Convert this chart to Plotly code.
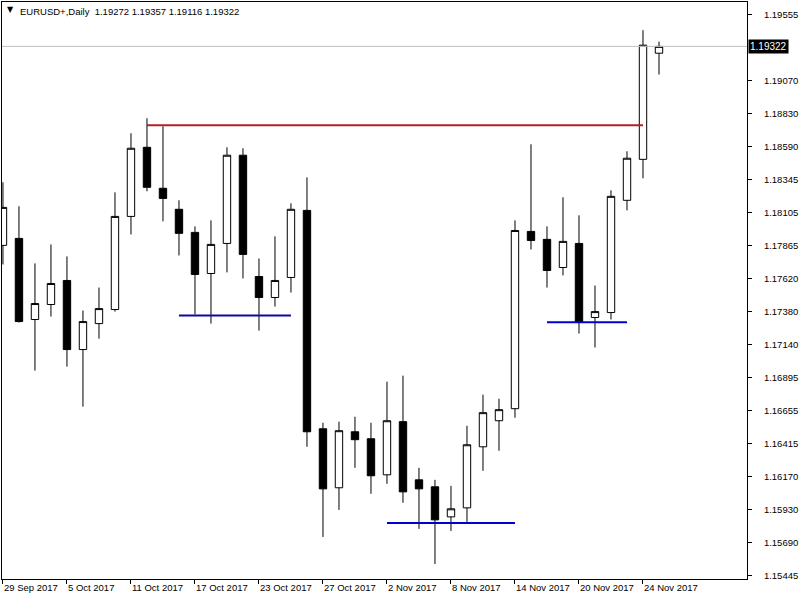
import plotly.graph_objects as go

# ---- data ----
date_labels = ["29 Sep 2017", "5 Oct 2017", "11 Oct 2017", "17 Oct 2017", "23 Oct 2017",
               "27 Oct 2017", "2 Nov 2017", "8 Nov 2017", "14 Nov 2017", "20 Nov 2017",
               "24 Nov 2017"]
label_bar_step = 4

opens = [1.17865, 1.17916, 1.17322, 1.17432, 1.17608, 1.17102, 1.17292, 1.17395, 1.18077, 1.18583,
         1.18283, 1.18129, 1.17960, 1.17659, 1.17879, 1.18525, 1.17637, 1.17483, 1.17630, 1.18121,
         1.16522, 1.16090, 1.16500, 1.16449, 1.16185, 1.16574, 1.16148, 1.16097, 1.15877, 1.15943,
         1.16390, 1.16581, 1.16669, 1.17967, 1.17909, 1.17703, 1.17879, 1.17337, 1.17373, 1.18195,
         1.18495, 1.19272]
highs = [1.18327, 1.18151, 1.17733, 1.17872, 1.17784, 1.17388, 1.17556, 1.18253, 1.18686, 1.18796,
         1.18737, 1.18195, 1.18004, 1.18048, 1.18583, 1.18576, 1.17769, 1.17931, 1.18173, 1.18363,
         1.16566, 1.16574, 1.16610, 1.16566, 1.16867, 1.16911, 1.16236, 1.16148, 1.16104, 1.16544,
         1.16772, 1.16742, 1.18048, 1.18605, 1.18004, 1.18217, 1.18085, 1.17571, 1.18268, 1.18554,
         1.19441, 1.19357]
lows = [1.17725, 1.17300, 1.16948, 1.17344, 1.16977, 1.16684, 1.17182, 1.17380, 1.17945, 1.18261,
        1.18041, 1.17791, 1.17359, 1.17292, 1.17667, 1.17623, 1.17241, 1.17417, 1.17520, 1.16390,
        1.15730, 1.15928, 1.16236, 1.16046, 1.16119, 1.15980, 1.15789, 1.15532, 1.15774, 1.15840,
        1.16214, 1.16361, 1.16603, 1.17835, 1.17556, 1.17645, 1.17219, 1.17117, 1.17322, 1.18121,
        1.18356, 1.19116]
closes = [1.18143, 1.17307, 1.17439, 1.17586, 1.17102, 1.17307, 1.17402, 1.18077, 1.18576, 1.18290,
          1.18209, 1.17953, 1.17652, 1.17872, 1.18525, 1.17799, 1.17483, 1.17608, 1.18129, 1.16500,
          1.16082, 1.16508, 1.16442, 1.16178, 1.16581, 1.16060, 1.16082, 1.15855, 1.15936, 1.16405,
          1.16640, 1.16662, 1.17974, 1.17901, 1.17681, 1.17894, 1.17307, 1.17380, 1.18224, 1.18503,
          1.19331, 1.19322]

# horizontal support / resistance levels
level_prices = [1.18745, 1.17351, 1.15832, 1.17302]
level_start_bar = [9, 11, 24, 34]
level_end_bar = [40, 18, 32, 39]
level_colors = ["#B22222", "#0A0AA0", "#0000CD", "#0000CD"]

y_tick_values = [1.19555, 1.19070, 1.18830, 1.18590, 1.18345, 1.18105, 1.17865, 1.17620,
                 1.17380, 1.17140, 1.16895, 1.16655, 1.16415, 1.16170, 1.15930, 1.15690, 1.15445]
y_range = [1.15422, 1.19647]

symbol_title = "EURUSD+,Daily"
last_close = closes[-1]

# ---- figure ----
bars = list(range(len(opens)))
FONT = "Liberation Sans, Arial, sans-serif"

fig = go.Figure()
fig.add_trace(go.Candlestick(
    x=bars, open=opens, high=highs, low=lows, close=closes,
    increasing=dict(line=dict(color="black", width=1), fillcolor="white"),
    decreasing=dict(line=dict(color="black", width=1), fillcolor="black"),
    whiskerwidth=0, showlegend=False, hoverinfo="skip",
))

# current price line
fig.add_trace(go.Scatter(x=[-1, len(opens) + 10], y=[last_close, last_close], mode="lines",
                         line=dict(color="#C0C0C0", width=1), showlegend=False, hoverinfo="skip"))

for p, s, e, c in zip(level_prices, level_start_bar, level_end_bar, level_colors):
    fig.add_trace(go.Scatter(x=[s, e], y=[p, p], mode="lines",
                             line=dict(color=c, width=2), showlegend=False, hoverinfo="skip"))

tick_bars = [i * label_bar_step for i in range(len(date_labels))]

fig.update_layout(
    width=800, height=600,
    margin=dict(l=2, r=53, t=2, b=21, autoexpand=False),
    paper_bgcolor="white", plot_bgcolor="white",
    font=dict(family=FONT, size=10, color="black"),
    boxgap=0.34,
    xaxis=dict(
        range=[-0.06, 46.5], rangeslider=dict(visible=False),
        tickmode="array", tickvals=tick_bars, ticktext=date_labels,
        ticks="outside", ticklen=4, tickcolor="black", tickwidth=1,
        ticklabelposition="outside right", tickangle=0, automargin=False,
        showgrid=False, zeroline=False,
        showline=True, linecolor="black", linewidth=1, mirror=True,
        tickfont=dict(family=FONT, size=9.5, color="black"),
        fixedrange=True,
    ),
    yaxis=dict(
        range=y_range, side="right", automargin=False,
        tickmode="array", tickvals=y_tick_values,
        ticktext=[f"{v:.5f}" for v in y_tick_values],
        ticks="outside", ticklen=4, tickcolor="black", tickwidth=1,
        ticklabelstandoff=10,
        showgrid=False, zeroline=False,
        showline=True, linecolor="black", linewidth=1, mirror=True,
        tickfont=dict(family=FONT, size=9.5, color="black"),
        fixedrange=True,
    ),
    annotations=[
        dict(xref="paper", yref="paper", x=0.004, y=0.999, xanchor="left", yanchor="top",
             text="▼", showarrow=False, font=dict(family="DejaVu Sans", size=8, color="black")),
        dict(xref="paper", yref="paper", x=0.022, y=0.997, xanchor="left", yanchor="top",
             text=f"{symbol_title}  {opens[-1]:.5f} {highs[-1]:.5f} {lows[-1]:.5f} {closes[-1]:.5f}",
             showarrow=False, font=dict(family=FONT, size=9.5, color="black")),
        dict(xref="paper", yref="y", x=1.0, y=last_close, xanchor="left", yanchor="middle",
             xshift=1, text=f"{last_close:.5f}", showarrow=False, bgcolor="black",
             borderpad=1, font=dict(family=FONT, size=10, color="white")),
    ],
)

fig.write_html("out.html", config={"displayModeBar": False},
               post_script="document.body.style.margin='0';document.body.style.padding='0';"
                           "document.body.style.overflow='hidden';")
